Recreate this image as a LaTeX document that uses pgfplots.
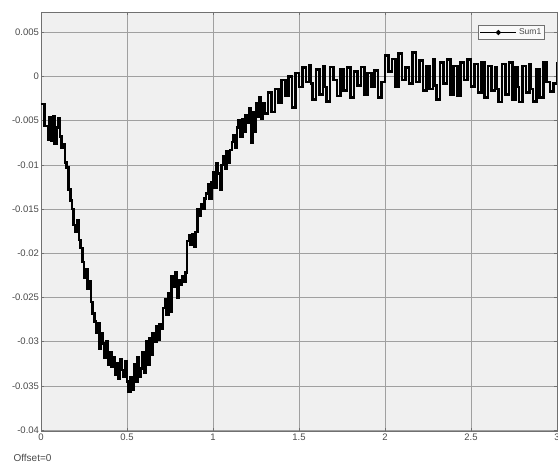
\documentclass[border=0pt]{standalone}
\usepackage{pgfplots}
\pgfplotsset{compat=1.18}
\usepackage{pgfplotstable}
\usepackage{fontspec}
\setmainfont{Liberation Sans}
\definecolor{bg}{HTML}{F0F0F0}
\definecolor{gridc}{HTML}{A0A0A0}
\definecolor{framec}{HTML}{707070}
\definecolor{labc}{HTML}{4A4A4A}
\pgfplotstableread[row sep=\\]{
t y\\
0.00 -0.0031\\ 0.01 -0.0031\\ 0.02 -0.0056\\ 0.03 -0.0056\\ 0.04 -0.0072\\ 0.05 -0.0046\\ 0.06 -0.0073\\ 0.07 -0.0045\\ 0.08 -0.0076\\ 0.09 -0.0058\\
0.10 -0.0047\\ 0.11 -0.0068\\ 0.12 -0.0081\\ 0.13 -0.0077\\ 0.14 -0.0097\\ 0.15 -0.0103\\ 0.16 -0.0128\\ 0.17 -0.0140\\ 0.18 -0.0150\\ 0.19 -0.0168\\
0.20 -0.0176\\ 0.21 -0.0163\\ 0.22 -0.0185\\ 0.23 -0.0194\\ 0.24 -0.0210\\ 0.25 -0.0228\\ 0.26 -0.0218\\ 0.27 -0.0240\\ 0.28 -0.0232\\ 0.29 -0.0255\\
0.30 -0.0268\\ 0.31 -0.0277\\ 0.32 -0.0290\\ 0.33 -0.0279\\ 0.34 -0.0308\\ 0.35 -0.0290\\ 0.36 -0.0302\\ 0.37 -0.0318\\ 0.38 -0.0300\\ 0.39 -0.0326\\
0.40 -0.0312\\ 0.41 -0.0328\\ 0.42 -0.0318\\ 0.43 -0.0337\\ 0.44 -0.0324\\ 0.45 -0.0342\\ 0.46 -0.0320\\ 0.47 -0.0332\\ 0.48 -0.0340\\ 0.49 -0.0322\\
0.50 -0.0345\\ 0.51 -0.0356\\ 0.52 -0.0340\\ 0.53 -0.0354\\ 0.54 -0.0326\\ 0.55 -0.0345\\ 0.56 -0.0318\\ 0.57 -0.0340\\ 0.58 -0.0330\\ 0.59 -0.0312\\
0.60 -0.0335\\ 0.61 -0.0300\\ 0.62 -0.0326\\ 0.63 -0.0296\\ 0.64 -0.0315\\ 0.65 -0.0290\\ 0.66 -0.0300\\ 0.67 -0.0282\\ 0.68 -0.0298\\ 0.69 -0.0280\\
0.70 -0.0285\\ 0.71 -0.0262\\ 0.72 -0.0252\\ 0.73 -0.0270\\ 0.74 -0.0245\\ 0.75 -0.0266\\ 0.76 -0.0226\\ 0.77 -0.0238\\ 0.78 -0.0222\\ 0.79 -0.0250\\
0.80 -0.0230\\ 0.81 -0.0236\\ 0.82 -0.0226\\ 0.83 -0.0232\\ 0.84 -0.0222\\ 0.85 -0.0186\\ 0.86 -0.0180\\ 0.87 -0.0190\\ 0.88 -0.0178\\ 0.89 -0.0192\\
0.90 -0.0176\\ 0.91 -0.0150\\ 0.92 -0.0158\\ 0.93 -0.0144\\ 0.94 -0.0150\\ 0.95 -0.0138\\ 0.96 -0.0132\\ 0.97 -0.0122\\ 0.98 -0.0138\\ 0.99 -0.0120\\
1.00 -0.0108\\ 1.01 -0.0126\\ 1.02 -0.0098\\ 1.03 -0.0110\\ 1.04 -0.0128\\ 1.05 -0.0100\\ 1.06 -0.0090\\ 1.07 -0.0104\\ 1.08 -0.0085\\ 1.09 -0.0098\\
1.10 -0.0083\\ 1.11 -0.0074\\ 1.12 -0.0066\\ 1.13 -0.0080\\ 1.14 -0.0058\\ 1.15 -0.0050\\ 1.16 -0.0068\\ 1.17 -0.0048\\ 1.18 -0.0062\\ 1.19 -0.0044\\
1.20 -0.0052\\ 1.21 -0.0036\\ 1.22 -0.0075\\ 1.23 -0.0040\\ 1.24 -0.0062\\ 1.25 -0.0030\\ 1.26 -0.0045\\ 1.27 -0.0024\\ 1.28 -0.0048\\ 1.29 -0.0030\\
1.30 -0.0042\\ 1.32 -0.0018\\ 1.34 -0.0040\\ 1.36 -0.0014\\ 1.38 -0.0030\\ 1.40 -0.0004\\ 1.42 -0.0022\\ 1.44 0.0000\\ 1.46 -0.0035\\ 1.48 0.0004\\
1.50 -0.0012\\ 1.52 0.0010\\ 1.54 -0.0006\\ 1.56 0.0013\\ 1.57 -0.0008\\ 1.58 -0.0026\\ 1.60 0.0008\\ 1.62 -0.0020\\ 1.64 0.0012\\ 1.65 -0.0012\\ 1.66 -0.0028\\ 1.68 0.0011\\
1.70 -0.0004\\ 1.72 -0.0022\\ 1.74 0.0008\\ 1.76 -0.0016\\ 1.78 0.0010\\ 1.80 -0.0024\\ 1.82 0.0006\\ 1.84 -0.0010\\ 1.86 0.0011\\ 1.88 -0.0020\\
1.90 0.0004\\ 1.92 -0.0012\\ 1.94 0.0007\\ 1.96 -0.0024\\ 1.98 -0.0006\\ 2.00 0.0024\\ 2.02 0.0006\\ 2.04 0.0020\\ 2.06 -0.0012\\ 2.08 0.0026\\
2.10 -0.0004\\ 2.12 0.0010\\ 2.14 -0.0008\\ 2.16 0.0027\\ 2.18 -0.0006\\ 2.20 0.0018\\ 2.22 -0.0016\\ 2.24 0.0012\\ 2.26 -0.0014\\ 2.28 0.0019\\ 2.29 -0.0010\\
2.30 -0.0026\\ 2.32 0.0016\\ 2.34 -0.0008\\ 2.36 0.0019\\ 2.38 -0.0020\\ 2.40 0.0012\\ 2.42 -0.0022\\ 2.44 0.0016\\ 2.46 -0.0004\\ 2.48 0.0019\\
2.50 -0.0011\\ 2.52 0.0014\\ 2.54 -0.0018\\ 2.56 0.0016\\ 2.58 -0.0024\\ 2.60 0.0012\\ 2.62 -0.0016\\ 2.64 0.0010\\ 2.65 -0.0014\\ 2.66 -0.0029\\ 2.68 0.0014\\
2.70 -0.0020\\ 2.72 0.0016\\ 2.74 -0.0026\\ 2.76 0.0010\\ 2.77 -0.0012\\ 2.78 -0.0029\\ 2.80 0.0012\\ 2.82 -0.0018\\ 2.84 0.0014\\ 2.85 -0.0014\\ 2.86 -0.0028\\ 2.88 0.0008\\
2.90 -0.0024\\ 2.92 0.0016\\ 2.94 -0.0006\\ 2.96 -0.0017\\ 2.98 -0.0008\\ 3.00 0.0016\\
}\sumdata
\begin{document}
\begin{tikzpicture}
\useasboundingbox (-41pt,-33pt) rectangle (517pt,431pt);
\begin{axis}[
  scale only axis, width=516pt, height=419pt,
  at={(0pt,0pt)}, anchor=south west,
  xmin=0, xmax=3, ymin=-0.0401, ymax=0.0073,
  axis background/.style={fill=bg},
  axis line style={draw=framec, line width=0.8pt},
  grid=major,
  major grid style={draw=gridc, line width=0.7pt},
  xtick={0,0.5,1,1.5,2,2.5,3},
  xticklabels={0,0.5,1,1.5,2,2.5,3},
  ytick={-0.04,-0.035,-0.03,-0.025,-0.02,-0.015,-0.01,-0.005,0,0.005},
  yticklabels={-0.04,-0.035,-0.03,-0.025,-0.02,-0.015,-0.01,-0.005,0,0.005},
  scaled y ticks=false,
  tick align=inside,
  major tick length=3pt,
  tick style={draw=framec, line width=0.7pt},
  ticklabel style={font=\fontsize{9.5}{11}\selectfont, text=labc},
  yticklabel style={xshift=1.5pt},
  xticklabel style={yshift=1pt},
  legend style={at={(rel axis cs:0.977,0.969)}, anchor=north east,
    draw=framec, fill=white!60!bg, font=\fontsize{8.5}{10}\selectfont,
    text=labc, inner sep=1.5pt, line width=0.7pt},
  legend cell align=left,
  legend image code/.code={
    \draw[black, line width=1.4pt] (0pt,0pt) -- (36pt,0pt);
    \fill[black] (18pt,0pt) circle (0.9pt);
  },
]
\addplot[const plot, black, line width=2.6pt, line join=miter] table[x=t, y=y] {\sumdata};
\addlegendentry{Sum1}
\end{axis}
\node[anchor=west, font=\fontsize{10}{12}\selectfont, text=labc] at (-31pt,-27pt) {Offset=0};
\end{tikzpicture}
\end{document}
